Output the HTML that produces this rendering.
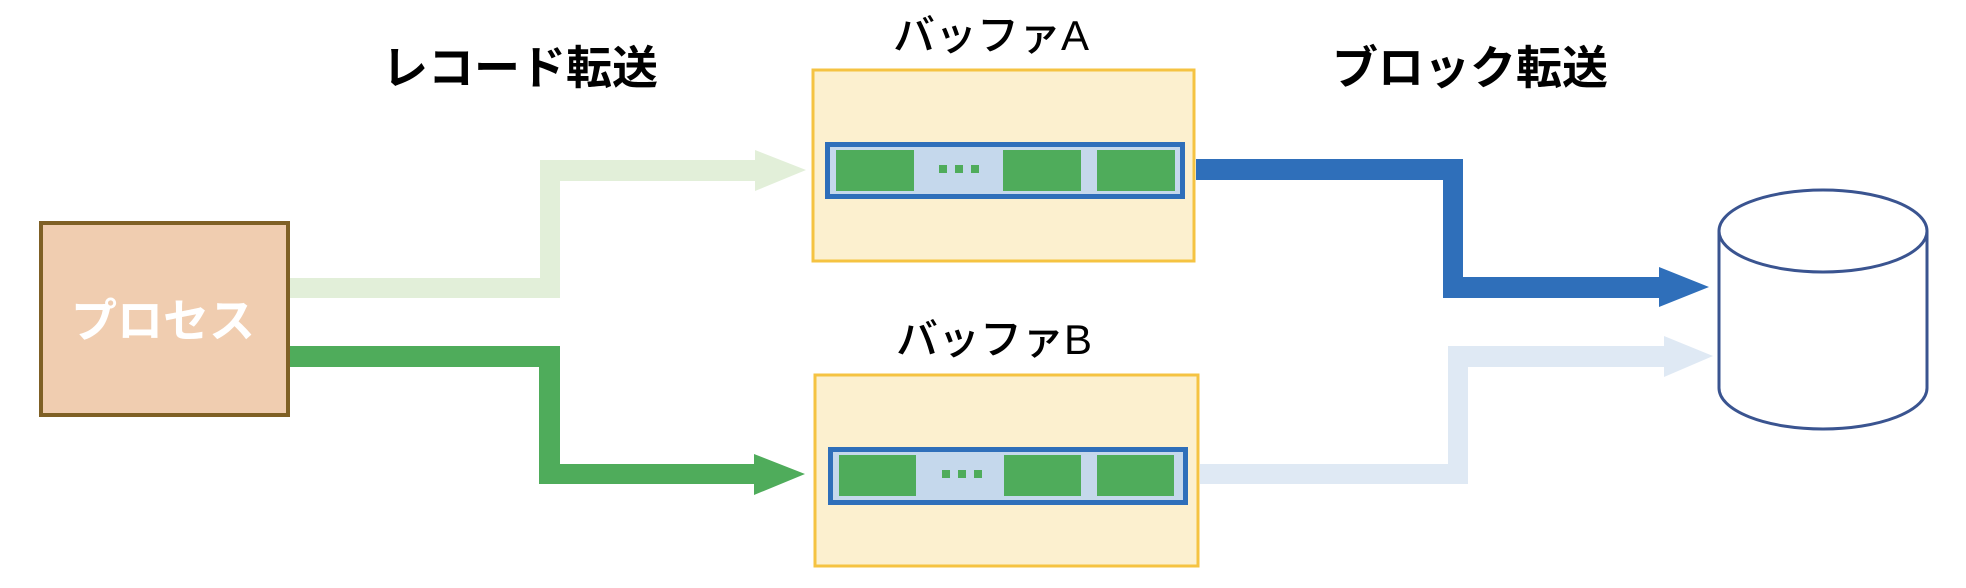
<!DOCTYPE html>
<html><head><meta charset="utf-8"><style>
html,body{margin:0;padding:0;background:#fff;width:1966px;height:588px;overflow:hidden}
svg text{font-family:"Liberation Sans","Noto Sans CJK JP",sans-serif}
</style></head><body>
<svg width="1966" height="588" viewBox="0 0 1966 588" xmlns="http://www.w3.org/2000/svg">
<!-- titles -->
<text x="520" y="84" font-size="46" font-weight="bold" text-anchor="middle" fill="#000">レコード転送</text>
<text x="1470" y="84" font-size="46" font-weight="bold" text-anchor="middle" fill="#000">ブロック転送</text>
<text x="991" y="50" font-size="42" font-weight="500" text-anchor="middle" fill="#000">バッファA</text>
<text x="994" y="354" font-size="42" font-weight="500" text-anchor="middle" fill="#000">バッファB</text>

<!-- process box -->
<rect x="41" y="223" width="247" height="192" fill="#f0cdb0" stroke="#7f6025" stroke-width="4"/>
<text x="163" y="337" font-size="46" font-weight="bold" text-anchor="middle" fill="#fff">プロセス</text>

<!-- light green arrow -->
<polygon points="290,278 540,278 540,160 755,160 755,150 806,170 755,191 755,181 560,181 560,298 290,298" fill="#e2efd9"/>
<!-- dark green arrow -->
<polygon points="290,346 560,346 560,464 754,464 754,454 805,474 754,495 754,484 539,484 539,367 290,367" fill="#4fac5b"/>

<!-- buffer A -->
<rect x="813" y="70" width="381" height="191" fill="#fcf0cf" stroke="#f5c342" stroke-width="3"/>
<rect x="827.5" y="144.5" width="355" height="52" fill="#c5d8ec" stroke="#2f6fba" stroke-width="5"/>
<rect x="836" y="150" width="78" height="41" fill="#4fac5b"/>
<rect x="1003" y="150" width="78" height="41" fill="#4fac5b"/>
<rect x="1097" y="150" width="78" height="41" fill="#4fac5b"/>
<rect x="939" y="165" width="8" height="8" fill="#4fac5b"/>
<rect x="955" y="165" width="8" height="8" fill="#4fac5b"/>
<rect x="971" y="165" width="8" height="8" fill="#4fac5b"/>

<!-- buffer B -->
<rect x="815" y="375" width="383" height="191" fill="#fcf0cf" stroke="#f5c342" stroke-width="3"/>
<rect x="830.5" y="449.5" width="355" height="53" fill="#c5d8ec" stroke="#2f6fba" stroke-width="5"/>
<rect x="839" y="455" width="77" height="41" fill="#4fac5b"/>
<rect x="1004" y="455" width="77" height="41" fill="#4fac5b"/>
<rect x="1097" y="455" width="77" height="41" fill="#4fac5b"/>
<rect x="942" y="470" width="8" height="8" fill="#4fac5b"/>
<rect x="958" y="470" width="8" height="8" fill="#4fac5b"/>
<rect x="974" y="470" width="8" height="8" fill="#4fac5b"/>

<!-- blue arrow -->
<polygon points="1196,159 1463,159 1463,277 1659,277 1659,267 1709,287 1659,307 1659,298 1443,298 1443,180 1196,180" fill="#2f6fba"/>
<!-- light blue arrow -->
<polygon points="1200,464 1448,464 1448,346 1664,346 1664,336 1713,356 1664,377 1664,367 1468,367 1468,484 1200,484" fill="#dfe9f4"/>

<!-- cylinder -->
<path d="M1719,231 L1719,388 A104,41 0 0 0 1927,388 L1927,231" fill="#fff" stroke="#3a5490" stroke-width="3"/>
<ellipse cx="1823" cy="231" rx="104" ry="41" fill="#fff" stroke="#3a5490" stroke-width="3"/>
</svg>
</body></html>
